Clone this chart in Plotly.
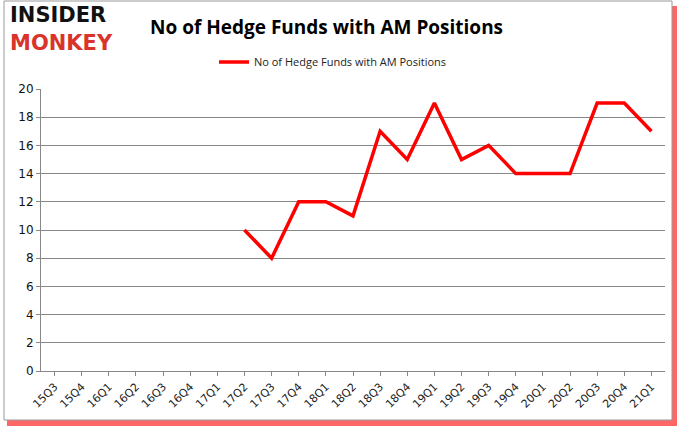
import plotly.graph_objects as go

quarters = ["15Q3","15Q4","16Q1","16Q2","16Q3","16Q4","17Q1","17Q2","17Q3","17Q4",
            "18Q1","18Q2","18Q3","18Q4","19Q1","19Q2","19Q3","19Q4","20Q1","20Q2",
            "20Q3","20Q4","21Q1"]
funds = [None,None,None,None,None,None,None,10,8,12,12,11,17,15,19,15,16,14,14,14,19,19,17]
series_name = "No of Hedge Funds with AM Positions"
y_ticks = list(range(0, 21, 2))

W, H = 678, 431
L, R, T, B = 41, 13, 89, 60
pw, ph = W - L - R, H - T - B

def px(x):
    return (x - L) / pw

def py(y):
    return (H - B - y) / ph

fig = go.Figure()
fig.add_trace(go.Scatter(
    x=quarters, y=funds, mode="lines", name=series_name,
    line=dict(color="#ff0000", width=3.5), connectgaps=False,
))

fig.update_layout(
    width=W, height=H,
    margin=dict(l=L, r=R, t=T, b=B),
    paper_bgcolor="white", plot_bgcolor="white",
    showlegend=True,
    legend=dict(orientation="h", x=px(214), y=py(62), xanchor="left", yanchor="middle",
                font=dict(family="Open Sans, DejaVu Sans", size=11, color="#222"),
                itemwidth=30, bgcolor="rgba(0,0,0,0)"),
    font=dict(family="DejaVu Sans", size=11, color="#222"),
)
fig.update_xaxes(
    type="category", tickangle=-45, showgrid=False,
    showline=True, linecolor="#888", linewidth=1,
    ticks="outside", ticklen=4, tickcolor="#888",
    tickfont=dict(family="DejaVu Sans", size=11, color="#222"),
    range=[-0.5, len(quarters) - 0.5],
)
fig.update_yaxes(
    range=[0, 20], tickvals=y_ticks, showgrid=True, gridcolor="#888", gridwidth=1,
    showline=True, linecolor="#888", linewidth=1,
    ticks="outside", ticklen=4, tickcolor="#888",
    tickfont=dict(family="DejaVu Sans", size=12, color="#111"),
    zeroline=False,
)

# title
fig.add_annotation(text="<b>No of Hedge Funds with AM Positions</b>", xref="paper", yref="paper",
                   x=px(148), y=py(27), xanchor="left", yanchor="middle", showarrow=False,
                   font=dict(family="Open Sans, Liberation Sans", size=19, color="#000"))
# logo
fig.add_annotation(text="<b>INSIDER</b>", xref="paper", yref="paper",
                   x=px(8), y=py(15), xanchor="left", yanchor="middle", showarrow=False,
                   font=dict(family="DejaVu Sans", size=21, color="#111"))
fig.add_annotation(text="<b>MONKEY</b>", xref="paper", yref="paper",
                   x=px(8), y=py(43), xanchor="left", yanchor="middle", showarrow=False,
                   font=dict(family="DejaVu Sans", size=21, color="#d9342b"))

# frame and shadow
fig.add_shape(type="rect", xref="paper", yref="paper", x0=px(7), x1=px(677), y0=py(426), y1=py(6),
              line=dict(width=0), fillcolor="rgba(255,0,0,0.6)", layer="below")
fig.add_shape(type="rect", xref="paper", yref="paper", x0=px(4), x1=px(672), y0=py(420), y1=py(1),
              line=dict(color="#999", width=1), fillcolor="white", layer="below")

fig.write_html("out.html", config={"displayModeBar": False},
               post_script="document.body.style.margin='0';document.body.style.padding='0';")
